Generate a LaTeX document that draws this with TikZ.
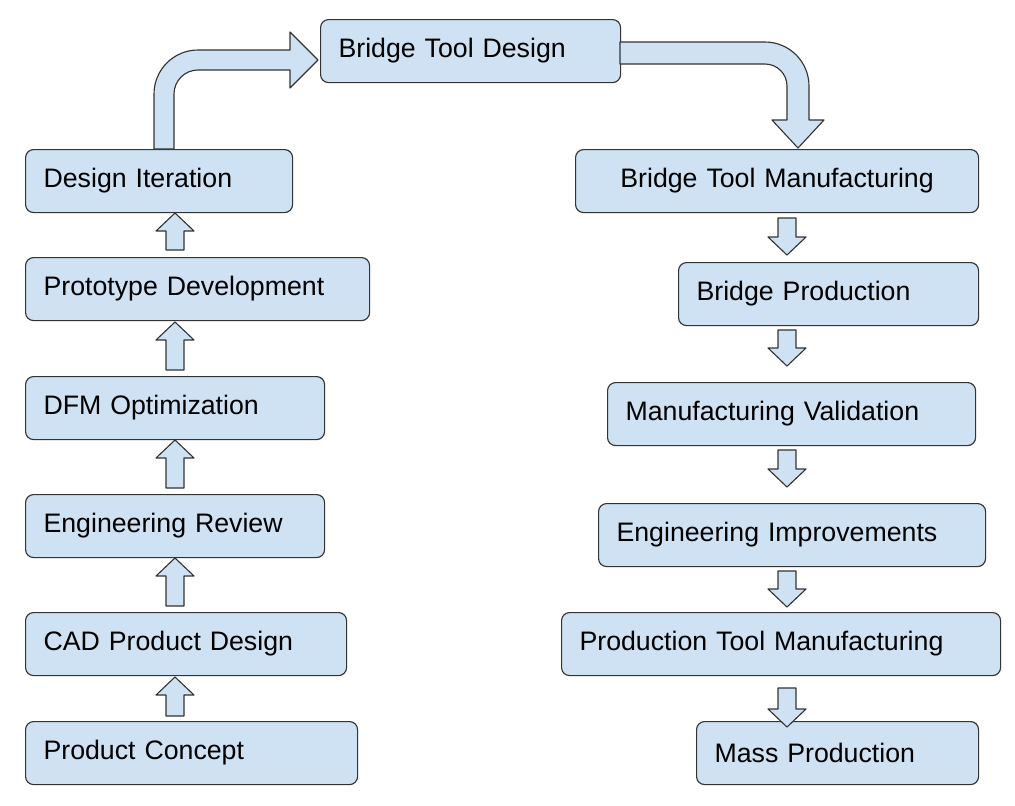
\documentclass[tikz,border=0pt]{standalone}
\usepackage{fontspec}
\setmainfont{Liberation Sans}
\definecolor{boxfill}{HTML}{CFE2F3}
\definecolor{boxline}{HTML}{333333}
\tikzset{
  box/.style={draw=boxline,fill=boxfill,rounded corners=0.2cm,line width=0.8pt,
    anchor=north west,inner xsep=0.45cm,inner ysep=0pt,minimum height=1.575cm,
    font=\fontsize{19}{22}\selectfont},
  blk/.style={draw=boxline,fill=boxfill,line width=0.8pt,line join=round}
}
% box: name, x, y, width (all in px), alignment, text
\newcommand{\stage}[6]{\node[box,text width={(#4-36)*0.025cm},align=#5] (#1) at (#2,#3) {#6};}
\newcommand{\uparr}[3]{\draw[blk] (#1,#2) -- (#1+19,#2+18) -- (#1+9,#2+18) -- (#1+9,#3) -- (#1-9,#3) -- (#1-9,#2+18) -- (#1-19,#2+18) -- cycle;}
\newcommand{\dnarr}[3]{\draw[blk] (#1,#3) -- (#1+19,#3-18) -- (#1+9,#3-18) -- (#1+9,#2) -- (#1-9,#2) -- (#1-9,#3-18) -- (#1-19,#3-18) -- cycle;}
\begin{document}
\begin{tikzpicture}[x=0.025cm,y=-0.025cm]
  \useasboundingbox (0,0) rectangle (1015,805);

  % left column
  \stage{iter}{25}{149}{267}{left}{Design Iteration}
  \stage{proto}{25}{257}{344}{left}{Prototype Development}
  \stage{dfm}{25}{376}{299}{left}{DFM Optimization}
  \stage{review}{25}{494}{299}{left}{Engineering Review}
  \stage{cad}{25}{612}{321}{left}{CAD Product Design}
  \stage{concept}{25}{721}{332}{left}{Product Concept}

  % top
  \stage{btd}{320}{19}{300}{left}{Bridge Tool Design}

  % right column
  \stage{btm}{575}{149}{403}{center}{Bridge Tool Manufacturing}
  \stage{bprod}{678}{262}{300}{left}{Bridge Production}
  \stage{valid}{607}{382}{368}{left}{Manufacturing Validation}
  \stage{improve}{598}{503}{387}{left}{Engineering Improvements}
  \stage{ptm}{561}{612}{439}{left}{Production Tool Manufacturing}
  \stage{mass}{696}{721}{282}{left}{Mass Production}

  % small arrows
  \uparr{175}{213}{250}
  \uparr{175}{322}{370}
  \uparr{175}{440}{488}
  \uparr{175}{558}{606}
  \uparr{175}{677}{716}
  \dnarr{787}{218}{255}
  \dnarr{787}{330}{366}
  \dnarr{787}{450}{487}
  \dnarr{787}{571}{607}
  \dnarr{787}{688}{727}

  % curved arrows
  \draw[blk] (154,149) [rounded corners=1.1cm] -- (154,50) [sharp corners] -- (290,50)
    -- (290,32) -- (318,60) -- (290,88) -- (290,70) [rounded corners=0.6cm] -- (174,70)
    [sharp corners] -- (174,149) -- cycle;
  \draw[blk] (620,42) [rounded corners=1.1cm] -- (809,42) [sharp corners] -- (809,120)
    -- (824,120) -- (798,148) -- (772,120) -- (787,120) [rounded corners=0.55cm] -- (787,64)
    [sharp corners] -- (620,64) -- cycle;
\end{tikzpicture}
\end{document}
